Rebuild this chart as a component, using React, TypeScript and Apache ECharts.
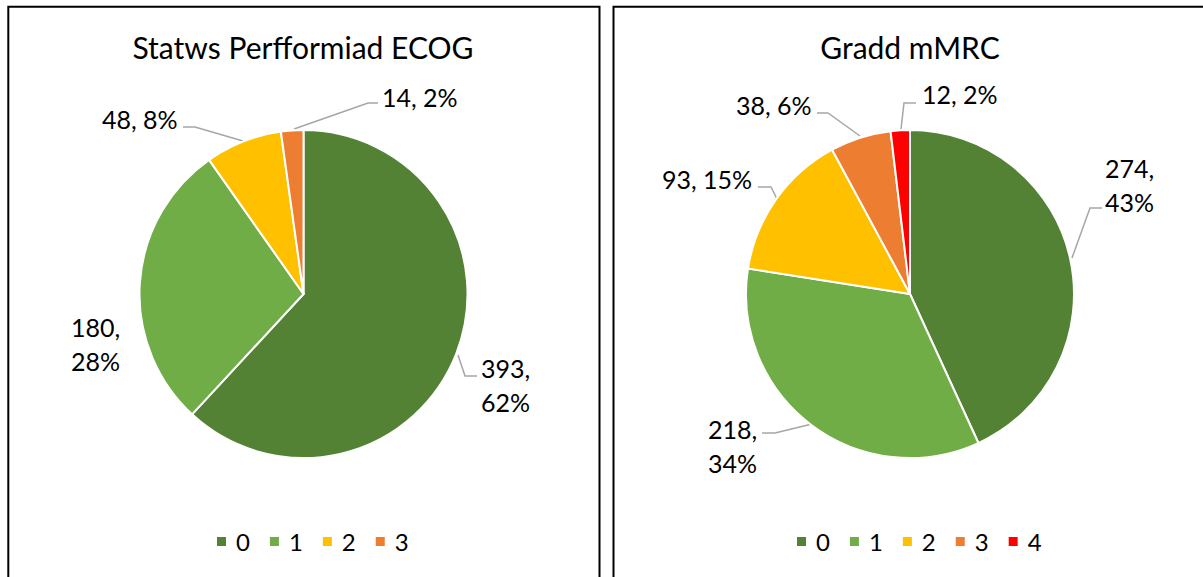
import React, { useEffect, useRef } from "react";
import * as echarts from "echarts";

const ecogCategories = ["0", "1", "2", "3"];
const ecogValues = [393, 180, 48, 14];
const mrcCategories = ["0", "1", "2", "3", "4"];
const mrcValues = [274, 218, 93, 38, 12];
const colorsByCategory: Record<string, string> = {
  "0": "#548235",
  "1": "#70AD47",
  "2": "#FFC000",
  "3": "#ED7D31",
  "4": "#FF0000",
};
const leftTitle = "Statws Perfformiad ECOG";
const rightTitle = "Gradd mMRC";

const FONT = "Lato, 'Noto Sans', sans-serif";

// label placement (style only)
const leftLabelPos = [
  { x: 481, y: 385, wrap: true, line: [[458, 355], [465, 376], [477, 376]] },
  { x: 71, y: 343.5, wrap: true, line: null },
  { x: 102, y: 119, wrap: false, line: [[243, 141], [195, 127], [183, 127]] },
  { x: 382, y: 97, wrap: false, line: [[294, 129], [368, 103], [378, 103]] },
];
const rightLabelPos = [
  { x: 1105, y: 185, wrap: true, line: [[1072, 258], [1090, 208], [1102, 208]] },
  { x: 708, y: 446, wrap: true, line: [[812, 424], [775, 433], [762, 433]] },
  { x: 662, y: 178.5, wrap: false, line: [[777, 199], [771, 187], [758, 187]] },
  { x: 736, y: 105, wrap: false, line: [[860, 136], [828, 113], [817, 113]] },
  { x: 922, y: 94, wrap: false, line: [[901, 129], [904, 103], [916, 103]] },
];

function makeSeries(
  cats: string[],
  vals: number[],
  center: number[],
  pos: { x: number; y: number; wrap: boolean; line: number[][] | null }[]
) {
  return {
    type: "pie",
    radius: 164,
    center,
    startAngle: 90,
    clockwise: true,
    percentPrecision: 0,
    avoidLabelOverlap: false,
    emphasis: { disabled: true },
    itemStyle: { borderColor: "#ffffff", borderWidth: 2 },
    label: {
      show: true,
      position: "outside",
      color: "#000000",
      fontFamily: FONT,
      fontSize: 25,
      lineHeight: 34,
      align: "left",
      formatter: (p: any) =>
        pos[p.dataIndex].wrap
          ? `${p.value},\n${p.percent}%`
          : `${p.value}, ${p.percent}%`,
    },
    labelLine: {
      show: true,
      length: 10,
      length2: 10,
      lineStyle: { color: "#A6A6A6", width: 1.5 },
    },
    labelLayout: (params: any) => {
      const p = pos[params.dataIndex];
      const r: any = { x: p.x, y: p.y, align: "left", verticalAlign: "middle" };
      if (p.line) r.labelLinePoints = p.line;
      return r;
    },
    data: cats.map((c, i) => ({
      name: c,
      value: vals[i],
      itemStyle: { color: colorsByCategory[c] },
      labelLine: pos[i].line ? undefined : { show: false },
    })),
  };
}

export default function App() {
  const ref = useRef<HTMLDivElement>(null);
  useEffect(() => {
    if (!ref.current) return;
    const chart = echarts.init(ref.current, null, { renderer: "svg" });
    const legendCommon = {
      orient: "horizontal",
      top: 529.5,
      padding: 0,
      itemWidth: 11,
      itemHeight: 11,
      itemGap: 18,
      icon: "rect",
      selectedMode: false,
      textStyle: {
        fontFamily: FONT,
        fontSize: 24,
        color: "#000000",
        padding: [0, 0, 0, 4],
      },
    };
    chart.setOption({
      animation: false,
      backgroundColor: "#ffffff",
      title: [
        {
          text: leftTitle,
          left: 303,
          top: 32,
          textAlign: "center",
          padding: 0,
          textStyle: { fontFamily: FONT, fontSize: 30, fontWeight: "normal", color: "#000" },
        },
        {
          text: rightTitle,
          left: 910,
          top: 32,
          textAlign: "center",
          padding: 0,
          textStyle: { fontFamily: FONT, fontSize: 30, fontWeight: "normal", color: "#000" },
        },
      ],
      legend: [
        { ...legendCommon, left: 215, data: ecogCategories },
        { ...legendCommon, left: 795, data: mrcCategories },
      ],
      graphic: [
        {
          type: "rect",
          shape: { x: 8.3, y: 6.7, width: 591.2, height: 620 },
          style: { fill: "none", stroke: "#000000", lineWidth: 2 },
          silent: true,
        },
        {
          type: "rect",
          shape: { x: 613.5, y: 6.7, width: 700, height: 620 },
          style: { fill: "none", stroke: "#000000", lineWidth: 2 },
          silent: true,
        },
      ],
      series: [
        makeSeries(ecogCategories, ecogValues, [303.5, 294], leftLabelPos),
        makeSeries(mrcCategories, mrcValues, [910, 294], rightLabelPos),
      ],
    });
    return () => chart.dispose();
  }, []);
  return (
    <div
      ref={ref}
      style={{ position: "fixed", left: 0, top: 0, width: 1203, height: 577 }}
    />
  );
}
